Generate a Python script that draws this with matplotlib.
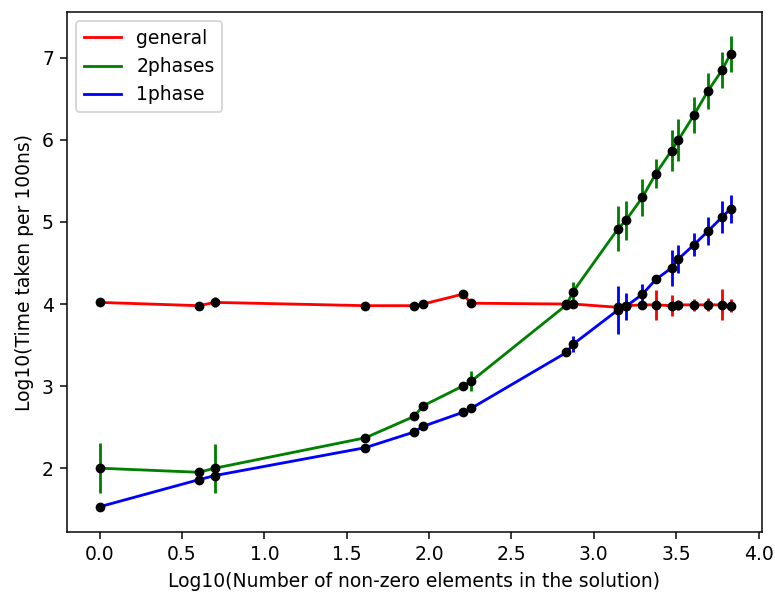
import matplotlib
matplotlib.use("Agg")
import matplotlib.pyplot as plt

# x: log10 of number of non-zero elements
x = [0.0, 0.602, 0.699, 1.613, 1.908, 1.964, 2.204, 2.256, 2.834, 2.874,
     3.148, 3.195, 3.295, 3.377, 3.472, 3.514, 3.607, 3.694, 3.779, 3.830]

general = [4.02, 3.98, 4.02, 3.98, 3.98, 4.0, 4.12, 4.01, 4.0, 4.0,
           3.96, 3.98, 3.99, 3.99, 3.98, 3.99, 3.99, 3.99, 3.99, 3.98]
general_err = [0.02, 0.02, 0.06, 0.01, 0.01, 0.01, 0.02, 0.04, 0.02, 0.02,
               0.03, 0.03, 0.03, 0.18, 0.13, 0.06, 0.07, 0.08, 0.19, 0.08]

two_phases = [2.0, 1.95, 2.0, 2.37, 2.63, 2.76, 3.0, 3.06, 3.99, 4.15,
              4.92, 5.02, 5.30, 5.59, 5.87, 6.0, 6.30, 6.60, 6.85, 7.05]
two_phases_err = [0.305, 0.01, 0.30, 0.01, 0.01, 0.01, 0.02, 0.12, 0.02, 0.12,
                  0.27, 0.24, 0.225, 0.18, 0.25, 0.26, 0.22, 0.22, 0.22, 0.22]

one_phase = [1.53, 1.86, 1.91, 2.25, 2.44, 2.51, 2.68, 2.73, 3.41, 3.51,
             3.93, 3.97, 4.12, 4.30, 4.44, 4.55, 4.72, 4.89, 5.06, 5.16]
one_phase_err = [0.01, 0.01, 0.01, 0.01, 0.01, 0.01, 0.01, 0.01, 0.01, 0.10,
                 0.29, 0.16, 0.13, 0.04, 0.22, 0.17, 0.14, 0.175, 0.19, 0.17]

series = [('general', general, general_err, 'red'),
          ('2phases', two_phases, two_phases_err, 'green'),
          ('1phase', one_phase, one_phase_err, 'blue')]

# reference looks like a default figure rendered at a higher dpi
dpi = 135
fig = plt.figure(figsize=(775 / dpi, 592 / dpi), dpi=dpi)
ax = fig.add_axes([0.0865, 0.101, 0.8965, 0.879])

for name, y, err, col in series:
    ax.plot(x, y, color=col, label=name)
    ax.errorbar(x, y, yerr=err, fmt='none', ecolor=col)

for name, y, err, col in series:
    ax.plot(x, y, 'o', color='black', markersize=4.2)

ax.set_xlim(-0.198, 4.02)
ax.set_ylim(1.22, 7.56)
ax.set_xlabel('Log10(Number of non-zero elements in the solution)')
ax.set_ylabel('Log10(Time taken per 100ns)')
ax.legend(loc='upper left')

fig.savefig('out.png', dpi=dpi)
